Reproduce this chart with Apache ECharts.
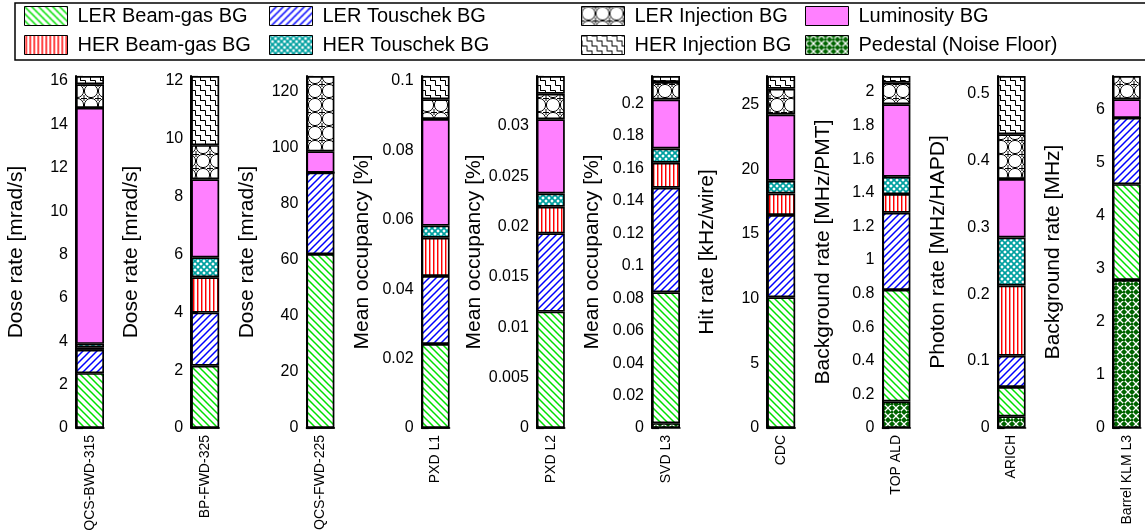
<!DOCTYPE html>
<html><head><meta charset="utf-8">
<script src="https://cdn.jsdelivr.net/npm/echarts@6/dist/echarts.min.js"></script>
<style>html,body{margin:0;padding:0;background:#fff}#c{width:1145px;height:531px}</style>
</head><body><div id="c"></div>
<script>
// ---- data ----
const detectors = ['QCS-BWD-315','BP-FWD-325','QCS-FWD-225','PXD L1','PXD L2','SVD L3','CDC','TOP ALD','ARICH','Barrel KLM L3'];
const yAxisNames = ['Dose rate [mrad/s]','Dose rate [mrad/s]','Dose rate [mrad/s]','Mean occupancy [%]','Mean occupancy [%]','Mean occupancy [%]','Hit rate [kHz/wire]','Background rate [MHz/PMT]','Photon rate [MHz/HAPD]','Background rate [MHz]'];
const tickIntervals = [2,2,20,0.02,0.005,0.02,5,0.2,0.1,1];
const minorSplits = [4,2,2,2,5,2,5,2,5,2];
const pedestal     = [0,0,0,0,0,0.003,0,0.158,0.0174,2.787];
const lerBeamGas   = [2.53,2.15,62.1,0.0242,0.01156,0.0807,10.11,0.664,0.0438,1.803];
const lerTouschek  = [1.07,1.84,29.1,0.0196,0.00777,0.0644,6.35,0.459,0.0468,1.247];
const herBeamGas   = [0.10,1.22,0,0.0110,0.00264,0.0154,1.67,0.111,0.105,0];
const herTouschek  = [0.18,0.69,0,0.0035,0.00132,0.0088,0.98,0.103,0.0716,0];
const luminosity   = [10.88,2.70,7.6,0.0307,0.00737,0.0302,5.12,0.432,0.0874,0.351];
const lerInjection = [1.09,1.18,26.9,0.0057,0.00254,0.0108,2.0,0.128,0.067,0.438];
const herInjection = [0.38,2.39,0,0.0067,0.00176,0.0037,0.98,0.04,0.087,0];

// ---- patterns ----
function mk(w,h,draw){const c=document.createElement('canvas');c.width=w;c.height=h;const g=c.getContext('2d');g.fillStyle='#fff';g.fillRect(0,0,w,h);draw(g,w,h);return {image:c,repeat:'repeat'};}
const patLerBG = mk(7,7,(g,s)=>{g.strokeStyle='#00e000';g.lineWidth=1.5;g.beginPath();[-7,0,7].forEach(c=>{g.moveTo(-1,c-1);g.lineTo(s+1,c+s+1);});g.stroke();});
const patLerT = mk(7,7,(g,s)=>{g.strokeStyle='#0000ff';g.lineWidth=1.5;g.beginPath();[0,7,14].forEach(c=>{g.moveTo(-1,c+1);g.lineTo(s+1,c-s-1);});g.stroke();});
const patHerBG = mk(4,4,(g)=>{g.fillStyle='#ff0000';g.fillRect(1,0,1,4);g.fillStyle='rgba(255,0,0,0.45)';g.fillRect(2,0,1,4);});
const patHerT = mk(6,6,(g,s)=>{g.strokeStyle='#00a0a0';g.lineWidth=1.7;g.beginPath();[-6,0,6].forEach(c=>{g.moveTo(-1,c-1);g.lineTo(s+1,c+s+1);g.moveTo(-1,c+s+1);g.lineTo(s+1,c-1);});g.stroke();});
const patLerInj = mk(14,14,(g)=>{g.strokeStyle='#000';g.lineWidth=1;g.beginPath();g.arc(7,7,6.6,0,Math.PI*2);g.stroke();g.beginPath();g.moveTo(0,0);g.lineTo(0,3);g.moveTo(0,11);g.lineTo(0,14);g.moveTo(14,0);g.lineTo(14,3);g.moveTo(14,11);g.lineTo(14,14);g.moveTo(0,0.5);g.lineTo(3,0.5);g.moveTo(11,0.5);g.lineTo(14,0.5);g.stroke();});
const patHerInj = mk(10,10,(g)=>{g.strokeStyle='#000';g.lineWidth=1;g.lineCap='square';g.beginPath();g.moveTo(0,0.5);g.lineTo(5.5,0.5);g.lineTo(5.5,5.5);g.lineTo(10,5.5);g.moveTo(0.5,5.5);g.lineTo(0.5,10);g.moveTo(0.5,0);g.lineTo(0.5,0.5);g.stroke();});
const patPed = mk(8,8,(g,s)=>{g.fillStyle='#006400';g.fillRect(0,0,s,s);g.strokeStyle='#ffffff';g.lineWidth=1.3;g.beginPath();[-8,0,8].forEach(c=>{g.moveTo(-1,c-1);g.lineTo(s+1,c+s+1);g.moveTo(-1,c+s+1);g.lineTo(s+1,c-1);});g.stroke();g.fillStyle='#006400';g.fillRect(3,3,2,2);});

const components = [
  {name:'Pedestal (Noise Floor)', values:pedestal, fill:patPed},
  {name:'LER Beam-gas BG', values:lerBeamGas, fill:patLerBG},
  {name:'LER Touschek BG', values:lerTouschek, fill:patLerT},
  {name:'HER Beam-gas BG', values:herBeamGas, fill:patHerBG},
  {name:'HER Touschek BG', values:herTouschek, fill:patHerT},
  {name:'Luminosity BG', values:luminosity, fill:'#ff80ff'},
  {name:'LER Injection BG', values:lerInjection, fill:patLerInj},
  {name:'HER Injection BG', values:herInjection, fill:patHerInj}
];
const legendLayout = [
  ['LER Beam-gas BG',0,0],['LER Touschek BG',1,0],['LER Injection BG',2,0],['Luminosity BG',3,0],
  ['HER Beam-gas BG',0,1],['HER Touschek BG',1,1],['HER Injection BG',2,1],['Pedestal (Noise Floor)',3,1]
];
const legendCols = [24,269,581,805];
const legendRows = [6,35];
const FONT = 'Liberation Sans, Arial, Helvetica, sans-serif';
const NARROW = '"Liberation Sans Narrow", "Arial Narrow", Liberation Sans, sans-serif';

const grids=[],xAxes=[],yAxes=[],series=[];
detectors.forEach((d,i)=>{
  const left = 76 + i*115.2;
  grids.push({left:left, top:76, width:28, bottom:103, outerBoundsMode:'none', containLabel:false});
  xAxes.push({type:'category', gridIndex:i, data:[d],
    axisLine:{show:true,lineStyle:{color:'#000',width:1.5}}, axisTick:{show:false},
    axisLabel:{rotate:90, fontSize:14, color:'#000', margin:7, fontFamily:NARROW}});
  const total = components.reduce((s,c)=>s+c.values[i],0);
  yAxes.push({type:'value', gridIndex:i, min:0, max:total, interval:tickIntervals[i],
    name:yAxisNames[i], nameLocation:'middle', nameGap:49,
    nameTextStyle:{fontSize:21,color:'#000',fontFamily:FONT},
    axisLine:{show:true,lineStyle:{color:'#000',width:2}},
    axisTick:{show:true,inside:true,length:7,lineStyle:{color:'#000',width:1.2}},
    minorTick:{show:true,splitNumber:minorSplits[i],length:4,lineStyle:{color:'#000',width:1}},
    splitLine:{show:false},
    axisLabel:{fontSize:16,color:'#000',margin:8,showMaxLabel:false,fontFamily:FONT}});
  components.forEach(c=>series.push({type:'bar', name:c.name, xAxisIndex:i, yAxisIndex:i, stack:'s'+i,
    barWidth:'100%', data:[c.values[i]], silent:true,
    itemStyle:{color:c.fill, borderColor:'#000', borderWidth:1.7}}));
});

const legends = legendLayout.map(([n,col,row])=>({
  data:[n], left:legendCols[col], top:legendRows[row], padding:0, icon:'rect',
  itemWidth:43, itemHeight:19, selectedMode:false,
  itemStyle:{borderColor:'#000',borderWidth:1},
  textStyle:{fontSize:20,color:'#000',fontFamily:FONT,padding:[0,0,0,5]}
}));

const chart = echarts.init(document.getElementById('c'), null, {renderer:'canvas'});
chart.setOption({
  animation:false,
  backgroundColor:'#fff',
  graphic:[{type:'rect', shape:{x:15,y:3,width:1200,height:57}, style:{fill:'none',stroke:'#000',lineWidth:1.5}, z:-1}],
  legend:legends,
  grid:grids, xAxis:xAxes, yAxis:yAxes, series:series
});
</script>
</body></html>
